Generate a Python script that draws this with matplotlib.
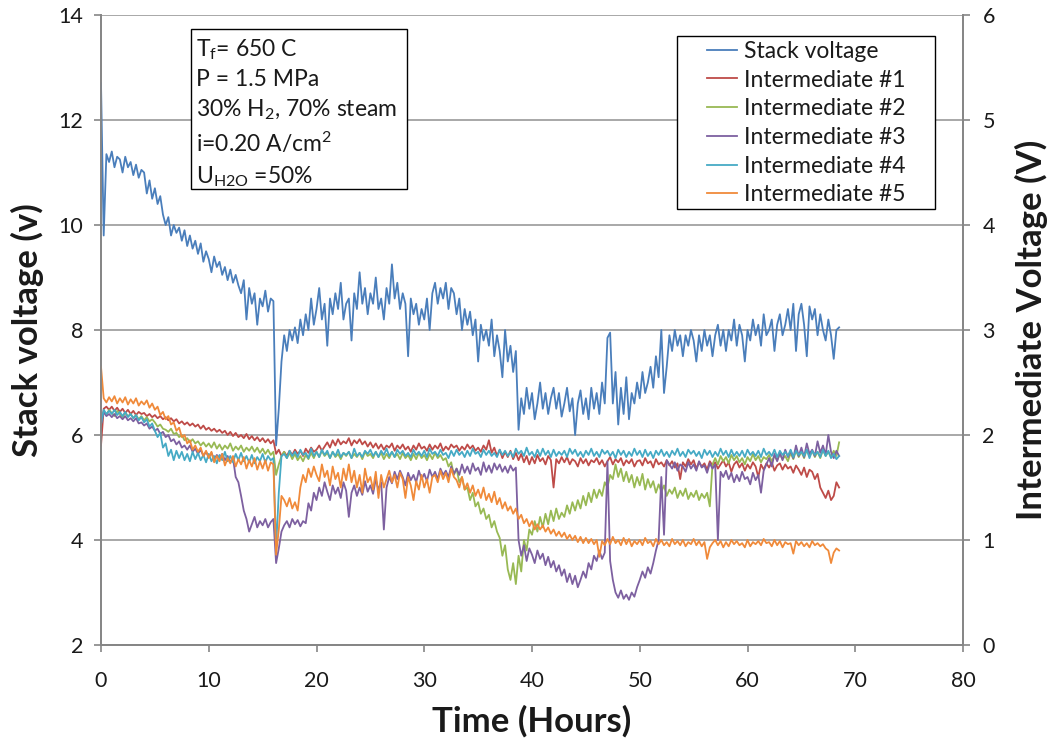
import numpy as np
import matplotlib
matplotlib.use("Agg")
import matplotlib.pyplot as plt
from matplotlib.patches import Rectangle

plt.rcParams['font.family'] = ['Lato', 'DejaVu Sans']
plt.rcParams['mathtext.fontset'] = 'custom'
plt.rcParams['mathtext.rm'] = 'Lato'
plt.rcParams['mathtext.it'] = 'Lato:italic'
plt.rcParams['mathtext.bf'] = 'Lato:bold'

time_step = 0.25

stack_voltage = [
    12.7, 9.8, 11.35, 11.2, 11.4, 11.1, 11.3, 11.25, 11.0, 11.3, 11.1, 11.2,
    10.95, 11.15, 10.9, 11.05, 11.0, 10.6, 10.85, 10.5, 10.7, 10.4, 10.55, 10.2,
    10.0, 10.15, 9.8, 10.0, 9.85, 9.95, 9.7, 9.9, 9.6, 9.8, 9.55, 9.7,
    9.45, 9.65, 9.3, 9.5, 9.35, 9.1, 9.4, 9.2, 9.3, 9.05, 9.2, 8.95,
    9.15, 8.9, 9.05, 8.85, 8.7, 8.95, 8.2, 8.8, 8.5, 8.7, 8.1, 8.6,
    8.45, 8.75, 8.35, 8.6, 8.55, 5.8, 6.5, 7.4, 7.9, 7.6, 8.0, 7.8,
    8.05, 7.75, 8.2, 7.9, 8.3, 8.0, 8.6, 8.1, 8.4, 8.8, 8.2, 8.5,
    7.7, 8.6, 8.3, 8.7, 8.4, 8.9, 8.2, 8.5, 8.6, 7.8, 8.7, 8.4,
    9.1, 8.5, 8.8, 8.3, 8.7, 8.5, 9.0, 8.4, 8.6, 8.2, 8.8, 8.5,
    9.25, 8.6, 8.9, 8.4, 8.7, 8.5, 7.5, 8.6, 8.3, 8.5, 8.1, 8.4,
    8.2, 8.6, 8.0, 8.7, 8.9, 8.5, 8.8, 8.6, 8.9, 8.4, 8.8, 8.7,
    8.3, 8.6, 8.0, 8.4, 8.1, 8.35, 7.9, 8.2, 7.4, 8.1, 7.8, 8.0,
    7.7, 8.2, 7.5, 7.9, 7.6, 7.1, 8.0, 7.4, 7.7, 7.2, 7.6, 6.1,
    6.7, 6.4, 6.9, 6.5, 6.8, 6.3, 6.6, 7.0, 6.5, 6.8, 6.4, 6.7,
    6.9, 6.5, 6.8, 6.35, 6.6, 6.9, 6.45, 6.7, 6.0, 6.6, 6.85, 6.4,
    6.7, 6.3, 6.9, 6.5, 6.8, 6.4, 7.0, 6.6, 7.85, 7.95, 6.6, 7.2,
    6.2, 6.9, 6.4, 7.1, 6.3, 6.8, 6.6, 7.0, 6.7, 7.2, 6.8, 7.0,
    7.3, 6.9, 7.5, 7.1, 8.0, 6.8, 7.3, 7.9, 7.6, 8.0, 7.7, 7.9,
    7.5, 7.9, 7.7, 8.0, 7.8, 7.4, 7.9, 7.6, 8.0, 7.7, 7.9, 7.5,
    7.9, 8.1, 7.7, 8.0, 7.6, 8.0, 7.8, 8.2, 7.7, 8.1, 7.9, 7.4,
    8.0, 7.8, 8.2, 7.9, 8.1, 7.7, 8.3, 7.9, 8.0, 8.2, 7.6, 8.1,
    8.3, 7.9, 8.1, 8.4, 8.0, 8.5, 7.6, 8.3, 8.5, 8.1, 7.5, 8.45,
    8.2, 8.4, 7.9, 8.3, 8.0, 7.8, 8.2, 7.9, 7.45, 8.0, 8.05,
]

intermediate_1 = [
    1.9, 2.25, 2.27, 2.24, 2.27, 2.23, 2.26, 2.22, 2.25, 2.21, 2.24, 2.2,
    2.23, 2.19, 2.22, 2.2, 2.21, 2.18, 2.2, 2.17, 2.19, 2.16, 2.18, 2.15,
    2.17, 2.14, 2.16, 2.13, 2.15, 2.11, 2.13, 2.1, 2.12, 2.09, 2.11, 2.08,
    2.1, 2.06, 2.09, 2.05, 2.07, 2.04, 2.06, 2.03, 2.05, 2.02, 2.04, 2.0,
    2.03, 1.99, 2.02, 1.98, 2.0, 1.97, 2.01, 1.96, 1.99, 1.95, 1.98, 1.94,
    1.97, 1.93, 1.96, 1.92, 1.95, 1.82, 1.86, 1.8, 1.84, 1.8, 1.85, 1.81,
    1.86, 1.82, 1.85, 1.8, 1.87, 1.83, 1.88, 1.84, 1.86, 1.9, 1.85, 1.89,
    1.93, 1.88, 1.95, 1.9, 1.96, 1.91, 1.94, 1.92, 1.97, 1.9, 1.95, 1.92,
    1.96, 1.91, 1.94, 1.89, 1.93, 1.88, 1.92, 1.87, 1.91, 1.86, 1.9, 1.88,
    1.92, 1.85, 1.9, 1.87, 1.91, 1.86, 1.89, 1.84, 1.9, 1.86, 1.92, 1.87,
    1.89, 1.85, 1.91, 1.86, 1.9, 1.87, 1.92, 1.85, 1.89, 1.86, 1.91, 1.88,
    1.9, 1.85, 1.89, 1.86, 1.91, 1.87, 1.9, 1.85, 1.88, 1.84, 1.9, 1.86,
    1.95, 1.83, 1.88, 1.8, 1.86, 1.78, 1.84, 1.79, 1.85, 1.77, 1.83, 1.76,
    1.82, 1.74, 1.8, 1.72, 1.79, 1.73, 1.81, 1.75, 1.78, 1.72, 1.8, 1.76,
    1.5, 1.77, 1.73, 1.79, 1.74, 1.79, 1.72, 1.77, 1.75, 1.7, 1.78, 1.73,
    1.77, 1.71, 1.76, 1.74, 1.78, 1.72, 1.76, 1.7, 1.75, 1.79, 1.72, 1.77,
    1.74, 1.78, 1.71, 1.76, 1.73, 1.77, 1.7, 1.75, 1.76, 1.71, 1.78, 1.73,
    1.75, 1.69, 1.77, 1.72, 1.74, 1.7, 1.76, 1.71, 1.75, 1.69, 1.73, 1.58,
    1.74, 1.7, 1.77, 1.72, 1.76, 1.68, 1.74, 1.7, 1.73, 1.67, 1.75, 1.71,
    1.74, 1.68, 1.72, 1.76, 1.7, 1.74, 1.65, 1.72, 1.75, 1.69, 1.73, 1.66,
    1.72, 1.68, 1.74, 1.7, 1.6, 1.72, 1.67, 1.73, 1.69, 1.74, 1.66, 1.71,
    1.73, 1.67, 1.72, 1.68, 1.7, 1.64, 1.71, 1.67, 1.62, 1.69, 1.6, 1.67,
    1.65, 1.58, 1.63, 1.5, 1.45, 1.4, 1.47, 1.38, 1.42, 1.55, 1.5,
]

intermediate_2 = [
    2.15, 2.22, 2.19, 2.24, 2.21, 2.18, 2.23, 2.2, 2.17, 2.21, 2.18, 2.2,
    2.16, 2.19, 2.15, 2.18, 2.14, 2.17, 2.13, 2.15, 2.12, 2.08, 2.1, 2.06,
    2.05, 2.03, 2.06, 2.01, 2.02, 1.98, 2.0, 1.95, 1.97, 1.93, 1.96, 1.92,
    1.94, 1.9, 1.93, 1.89, 1.92, 1.88, 1.93, 1.87, 1.91, 1.86, 1.9, 1.87,
    1.92, 1.85, 1.89, 1.86, 1.9, 1.84, 1.88, 1.85, 1.89, 1.84, 1.88, 1.83,
    1.87, 1.82, 1.86, 1.81, 1.84, 1.62, 1.72, 1.8, 1.84, 1.78, 1.83, 1.77,
    1.82, 1.76, 1.8, 1.75, 1.81, 1.77, 1.83, 1.78, 1.84, 1.79, 1.85, 1.8,
    1.83, 1.78, 1.84, 1.79, 1.82, 1.77, 1.83, 1.8, 1.84, 1.78, 1.82, 1.79,
    1.83, 1.77, 1.84, 1.8, 1.82, 1.78, 1.84, 1.79, 1.83, 1.77, 1.82, 1.78,
    1.84, 1.79, 1.82, 1.77, 1.83, 1.78, 1.81, 1.76, 1.82, 1.77, 1.83, 1.78,
    1.81, 1.76, 1.82, 1.77, 1.83, 1.78, 1.81, 1.76, 1.78, 1.7, 1.74, 1.62,
    1.68, 1.55, 1.6, 1.48, 1.5, 1.38, 1.45, 1.32, 1.36, 1.25, 1.3, 1.2,
    1.24, 1.12, 1.18, 1.08, 1.02, 0.85, 0.95, 0.72, 0.62, 0.78, 0.58, 0.85,
    0.7, 1.0, 0.9, 1.1, 1.05, 1.18, 1.08, 1.22, 1.12, 1.25, 1.15, 1.28,
    1.18, 1.3, 1.2, 1.26, 1.22, 1.33, 1.25, 1.36, 1.28, 1.38, 1.3, 1.42,
    1.33, 1.45, 1.36, 1.48, 1.4, 1.48, 1.42, 1.55, 1.5, 1.62, 1.58, 1.72,
    1.6, 1.68, 1.56, 1.65, 1.55, 1.62, 1.5, 1.6, 1.52, 1.63, 1.48, 1.58,
    1.5, 1.56, 1.45, 1.53, 1.46, 1.52, 1.42, 1.48, 1.44, 1.5, 1.4, 1.47,
    1.42, 1.49, 1.39, 1.45, 1.41, 1.47, 1.38, 1.44, 1.4, 1.45, 1.32, 1.72,
    1.78, 1.72, 1.8, 1.75, 1.79, 1.73, 1.81, 1.76, 1.8, 1.74, 1.78, 1.72,
    1.79, 1.75, 1.82, 1.76, 1.8, 1.74, 1.79, 1.77, 1.81, 1.75, 1.8, 1.76,
    1.82, 1.77, 1.8, 1.75, 1.83, 1.77, 1.85, 1.79, 1.84, 1.78, 1.86, 1.8,
    1.85, 1.79, 1.84, 1.78, 1.86, 1.8, 1.84, 1.79, 1.85, 1.8, 1.93,
]

intermediate_3 = [
    2.1, 2.22, 2.18, 2.2, 2.17, 2.2, 2.16, 2.18, 2.15, 2.18, 2.14, 2.16,
    2.13, 2.16, 2.11, 2.12, 2.09, 2.11, 2.06, 2.08, 2.04, 2.06, 2.01, 2.03,
    1.98, 2.0, 1.94, 1.96, 1.91, 1.94, 1.88, 1.9, 1.86, 1.9, 1.84, 1.87,
    1.82, 1.86, 1.8, 1.84, 1.79, 1.83, 1.77, 1.81, 1.78, 1.82, 1.76, 1.8,
    1.74, 1.78, 1.6, 1.55, 1.42, 1.28, 1.2, 1.08, 1.15, 1.22, 1.12, 1.18,
    1.14, 1.2, 1.12, 1.17, 1.2, 0.78, 0.92, 1.08, 1.14, 1.18, 1.12, 1.2,
    1.15, 1.19, 1.13, 1.18, 1.16, 1.35, 1.28, 1.45, 1.38, 1.5, 1.42, 1.55,
    1.46, 1.38, 1.52, 1.44, 1.5, 1.4, 1.55, 1.47, 1.22, 1.45, 1.52, 1.42,
    1.5, 1.43, 1.56, 1.46, 1.52, 1.44, 1.58, 1.48, 1.55, 1.1, 1.5, 1.6,
    1.54, 1.65, 1.58, 1.66, 1.6, 1.52, 1.64, 1.57, 1.62, 1.55, 1.66, 1.58,
    1.63, 1.56, 1.67, 1.6, 1.65, 1.58, 1.68, 1.62, 1.66, 1.6, 1.7, 1.63,
    1.68, 1.62, 1.72, 1.64, 1.7, 1.63, 1.73, 1.66, 1.69, 1.62, 1.74, 1.65,
    1.71, 1.64, 1.73, 1.67, 1.72, 1.65, 1.7, 1.64, 1.71, 1.66, 1.69, 1.0,
    0.85, 0.95, 0.8, 0.92, 0.86, 0.78, 0.9, 0.82, 0.87, 0.76, 0.84, 0.74,
    0.8, 0.7, 0.76, 0.66, 0.72, 0.6, 0.68, 0.58, 0.66, 0.55, 0.62, 0.7,
    0.64, 0.78, 0.72, 0.85, 0.8, 0.9, 0.82, 0.88, 1.75, 0.8, 0.62, 0.5,
    0.45, 0.52, 0.44, 0.48, 0.43, 0.5, 0.46, 0.55, 0.62, 0.7, 0.64, 0.74,
    0.68, 0.78, 0.9, 1.0, 1.6, 1.05, 1.76, 1.72, 1.68, 1.74, 1.66, 1.72,
    1.7, 1.65, 1.74, 1.68, 1.72, 1.66, 1.75, 1.69, 1.71, 1.64, 1.73, 1.68,
    1.72, 1.0, 1.65, 1.6, 1.66, 1.58, 1.64, 1.55, 1.62, 1.56, 1.65, 1.58,
    1.6, 1.53, 1.64, 1.57, 1.62, 1.45, 1.66, 1.72, 1.78, 1.7, 1.82, 1.75,
    1.83, 1.76, 1.86, 1.79, 1.85, 1.78, 1.9, 1.8, 1.88, 1.79, 1.92, 1.82,
    1.86, 1.8, 1.94, 1.83, 1.9, 1.81, 2.0, 1.84, 1.78, 1.85, 1.8,
]

intermediate_4 = [
    2.1, 2.24, 2.2, 2.23, 2.2, 2.24, 2.19, 2.22, 2.18, 2.22, 2.17, 2.2,
    2.16, 2.19, 2.14, 2.17, 2.12, 2.15, 2.08, 2.11, 2.04, 1.98, 2.02, 1.88,
    1.92, 1.8, 1.86, 1.76, 1.85, 1.78, 1.84, 1.76, 1.82, 1.75, 1.84, 1.77,
    1.83, 1.76, 1.81, 1.74, 1.82, 1.75, 1.8, 1.73, 1.81, 1.76, 1.84, 1.75,
    1.8, 1.74, 1.82, 1.76, 1.83, 1.75, 1.8, 1.74, 1.81, 1.73, 1.79, 1.75,
    1.82, 1.74, 1.8, 1.76, 1.78, 0.93, 1.45, 1.8, 1.82, 1.78, 1.85, 1.8,
    1.84, 1.79, 1.86, 1.81, 1.83, 1.78, 1.87, 1.8, 1.84, 1.79, 1.86, 1.81,
    1.85, 1.78, 1.84, 1.8, 1.86, 1.79, 1.83, 1.81, 1.84, 1.78, 1.87, 1.8,
    1.83, 1.79, 1.85, 1.82, 1.86, 1.8, 1.84, 1.79, 1.85, 1.81, 1.87, 1.8,
    1.84, 1.79, 1.86, 1.82, 1.85, 1.8, 1.83, 1.79, 1.86, 1.81, 1.84, 1.8,
    1.85, 1.79, 1.87, 1.82, 1.84, 1.8, 1.86, 1.81, 1.83, 1.78, 1.85, 1.8,
    1.86, 1.81, 1.84, 1.79, 1.85, 1.8, 1.87, 1.82, 1.84, 1.79, 1.86, 1.81,
    1.85, 1.8, 1.83, 1.79, 1.86, 1.81, 1.85, 1.8, 1.84, 1.79, 1.87, 1.82,
    1.85, 1.8, 1.88, 1.81, 1.84, 1.79, 1.86, 1.8, 1.87, 1.81, 1.85, 1.79,
    1.86, 1.8, 1.84, 1.81, 1.85, 1.79, 1.87, 1.82, 1.86, 1.8, 1.84, 1.79,
    1.85, 1.81, 1.87, 1.8, 1.84, 1.79, 1.86, 1.82, 1.85, 1.8, 1.84, 1.78,
    1.86, 1.81, 1.85, 1.79, 1.84, 1.8, 1.87, 1.81, 1.85, 1.79, 1.86, 1.8,
    1.84, 1.78, 1.85, 1.81, 1.86, 1.8, 1.84, 1.79, 1.85, 1.81, 1.87, 1.8,
    1.84, 1.79, 1.86, 1.82, 1.85, 1.8, 1.84, 1.78, 1.86, 1.81, 1.85, 1.79,
    1.84, 1.8, 1.87, 1.81, 1.85, 1.79, 1.86, 1.8, 1.84, 1.8, 1.85, 1.79,
    1.86, 1.81, 1.84, 1.8, 1.85, 1.79, 1.87, 1.81, 1.84, 1.8, 1.86, 1.79,
    1.85, 1.81, 1.84, 1.8, 1.86, 1.79, 1.85, 1.81, 1.84, 1.8, 1.86, 1.78,
    1.85, 1.81, 1.84, 1.79, 1.86, 1.8, 1.85, 1.78, 1.82, 1.77, 1.8,
]

intermediate_5 = [
    2.65, 2.35, 2.31, 2.36, 2.32, 2.37, 2.3, 2.35, 2.31, 2.36, 2.29, 2.34,
    2.3, 2.35, 2.28, 2.32, 2.29, 2.33, 2.26, 2.3, 2.24, 2.27, 2.19, 2.22,
    2.15, 2.18, 2.1, 2.12, 2.04, 2.07, 1.98, 2.0, 1.92, 1.95, 1.86, 1.9,
    1.84, 1.88, 1.8, 1.85, 1.78, 1.84, 1.74, 1.8, 1.75, 1.82, 1.71, 1.78,
    1.73, 1.8, 1.7, 1.77, 1.72, 1.79, 1.68, 1.76, 1.7, 1.78, 1.67, 1.75,
    1.68, 1.76, 1.66, 1.74, 1.72, 0.86, 1.1, 1.42, 1.38, 1.32, 1.4, 1.3,
    1.36, 1.28, 1.5, 1.62, 1.55, 1.68, 1.6, 1.7, 1.62, 1.56, 1.72, 1.6,
    1.66, 1.52, 1.7, 1.58, 1.64, 1.5, 1.68, 1.57, 1.72, 1.55, 1.66, 1.5,
    1.62, 1.45, 1.68, 1.55, 1.6, 1.48, 1.65, 1.4, 1.62, 1.5, 1.58, 1.66,
    1.55, 1.62, 1.5, 1.64, 1.58, 1.4, 1.6, 1.52, 1.38, 1.56, 1.48, 1.62,
    1.5, 1.58, 1.45, 1.6, 1.62, 1.55, 1.66, 1.58, 1.64, 1.55, 1.68, 1.6,
    1.57, 1.5, 1.6, 1.48, 1.54, 1.45, 1.52, 1.42, 1.48, 1.4, 1.5, 1.38,
    1.44, 1.36, 1.46, 1.34, 1.4, 1.3, 1.36, 1.28, 1.32, 1.25, 1.3, 1.2,
    1.24, 1.16, 1.2, 1.13, 1.18, 1.1, 1.15, 1.1, 1.14, 1.08, 1.12, 1.06,
    1.1, 1.04, 1.08, 1.03, 1.07, 1.01, 1.05, 1.0, 1.04, 0.98, 1.03, 0.97,
    1.02, 0.97, 1.01, 0.96, 1.0, 0.84, 0.99, 0.95, 1.01, 0.96, 1.03, 0.97,
    1.0, 0.95, 1.02, 0.96, 1.01, 0.94, 0.99, 0.96, 1.0, 0.95, 1.02, 0.97,
    0.99, 0.94, 1.01, 0.96, 1.0, 0.95, 0.98, 0.94, 1.01, 0.96, 0.99, 0.95,
    1.0, 0.94, 0.98, 0.96, 1.01, 0.95, 0.99, 0.94, 0.98, 0.82, 0.93, 0.97,
    1.0, 0.95, 0.99, 0.93, 0.98, 0.94, 1.0, 0.96, 0.99, 0.95, 0.97, 0.93,
    1.0, 0.94, 0.98, 0.96, 0.99, 0.95, 1.01, 0.97, 0.98, 0.94, 1.0, 0.95,
    0.99, 0.93, 0.98, 0.96, 0.97, 0.87, 0.99, 0.95, 0.98, 0.94, 0.97, 0.93,
    0.99, 0.95, 0.97, 0.94, 0.96, 0.92, 0.9, 0.78, 0.88, 0.92, 0.9,
]

series_names = ["Intermediate #1", "Intermediate #2", "Intermediate #3",
                "Intermediate #4", "Intermediate #5"]
series_values = [intermediate_1, intermediate_2, intermediate_3,
                 intermediate_4, intermediate_5]
series_colors = ["#BE4B48", "#98B954", "#7D60A0", "#46AAC5", "#F08A3A"]
stack_color = "#4A7EBB"

info_lines = [
    r"T$_{\mathrm{f}}$= 650 C",
    "P = 1.5 MPa",
    r"30% H$_{2}$, 70% steam",
    r"i=0.20 A/cm$^{2}$",
    r"U$_{\mathrm{H2O}}$ =50%",
]

fig = plt.figure(figsize=(10.51, 7.43), dpi=100)
ax = fig.add_axes([0.0961, 0.1319, 0.8202, 0.8479])
ax2 = ax.twinx()

grid_c = "#9a9a9a"
spine_c = "#868686"
txt_c = "#1a1a1a"

def hours(vals):
    return np.arange(len(vals)) * time_step

ln_stack, = ax.plot(hours(stack_voltage), stack_voltage, color=stack_color,
                    lw=1.3, label="Stack voltage", zorder=3)
handles = [ln_stack]
for name, vals, col in zip(series_names, series_values, series_colors):
    h, = ax2.plot(hours(vals), vals, color=col, lw=1.3, label=name)
    handles.append(h)

ax.set_xlim(0, 80)
ax.set_ylim(2, 14)
ax2.set_ylim(0, 6)
ax.set_xticks(np.arange(0, 81, 10))
ax.set_yticks(np.arange(2, 15, 2))
ax2.set_yticks(np.arange(0, 7, 1))

ax.grid(axis='y', color=grid_c, lw=1.2)
ax.set_axisbelow(True)
ax2.patch.set_visible(False)

for a in (ax, ax2):
    for s in a.spines.values():
        s.set_color(spine_c)
        s.set_linewidth(1.3)
    a.spines['top'].set_visible(False)
    a.tick_params(colors=spine_c, labelcolor=txt_c, labelsize=15.5,
                  length=5, width=1.2, direction='out')
ax.tick_params(axis='x', pad=14)
ax.tick_params(axis='y', pad=8)
ax2.tick_params(axis='y', pad=9)

ax.set_xlabel("Time (Hours)", fontsize=25, fontweight='bold', color=txt_c,
              labelpad=10)
ax.set_ylabel("Stack voltage (v)", fontsize=25, fontweight='bold', color=txt_c,
              labelpad=10)
ax2.set_ylabel("Intermediate Voltage (V)", fontsize=25, fontweight='bold',
               color=txt_c, labelpad=14)

# info box
ax2.add_patch(Rectangle((0.1044, 0.7238), 0.2506, 0.2540,
                        transform=ax2.transAxes, fc='white', ec='black',
                        lw=1.0, zorder=9))
ax2.text(0.1105, 0.965, "\n".join(info_lines), transform=ax2.transAxes,
         ha='left', va='top', fontsize=16.5, color=txt_c, linespacing=1.42,
         zorder=10)

# legend box
ax2.add_patch(Rectangle((0.6682, 0.692), 0.2993, 0.2747,
                        transform=ax2.transAxes, fc='white', ec='black',
                        lw=1.0, zorder=9))
leg = ax2.legend(handles=handles, loc='upper left',
                 bbox_to_anchor=(0.703, 0.959), fontsize=16.5, frameon=False,
                 handlelength=1.31, handletextpad=0.3, labelspacing=0.335,
                 borderpad=0, borderaxespad=0)
leg.set_zorder(11)
for t in leg.get_texts():
    t.set_color(txt_c)

fig.savefig("out.png", dpi=100)
